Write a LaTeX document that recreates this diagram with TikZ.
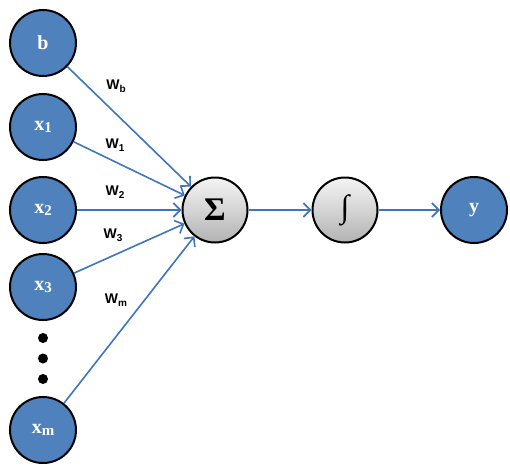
\documentclass[tikz,border=0pt]{standalone}
\usepackage{fontspec}
\newfontfamily\wfont{Liberation Sans}
\newfontfamily\nfont{Liberation Serif}
\usetikzlibrary{arrows.meta}

\definecolor{inblue}{RGB}{79,129,189}
\definecolor{lineblue}{RGB}{62,117,188}

\newcommand{\wlab}[1]{W\raisebox{-.4ex}{\fontsize{10}{11}\selectfont #1}}
\newcommand{\xlab}[1]{x\raisebox{-.3ex}{\fontsize{15}{16}\selectfont #1}}

\tikzset{
  neuron/.style={circle, draw=black, line width=2pt, minimum size=66pt, inner sep=0pt,
    fill=inblue, text=white, font=\nfont\fontsize{20}{22}\selectfont\bfseries},
  unit/.style={circle, draw=black, line width=2pt, minimum size=65pt, inner sep=0pt,
    top color=gray!8, bottom color=gray!60, text=black},
  dot/.style={circle, fill=black, minimum size=10pt, inner sep=0pt},
  wlabel/.style={font=\wfont\fontsize{14}{16}\selectfont\bfseries, text=black},
  link/.style={draw=lineblue, line width=1.6pt, -{Straight Barb[length=7pt,width=14pt]}}
}

\begin{document}
\begin{tikzpicture}[x=1pt, y=-1pt]
            \useasboundingbox (0,0) rectangle (510,468);
            % Nodes
            \node[neuron] (b) at (43,43) {b};
            \node[neuron, below of=b, node distance=84pt] (x1) {\xlab{1}};
            \node[neuron, below of=x1, node distance=83pt] (x2) {\xlab{2}};
            \node[neuron, below of=x2, node distance=77pt] (x3) {\xlab{3}};
            \node[dot, below of=x3, node distance=51pt] (dot1) {};
            \node[dot, below of=dot1, node distance=20.5pt] (dot2) {};
            \node[dot, below of=dot2, node distance=20.5pt] (dot3) {};
            \node[neuron, below of=x3, node distance=143pt] (xm) {\xlab{m}};
            \node[unit, right of=x2, node distance=172pt, font=\nfont\fontsize{33}{35}\selectfont\bfseries] (sum) {Σ};
            \node[unit, right of=sum, node distance=130pt, font=\nfont\fontsize{32}{34}\selectfont\bfseries] (act) {∫};
            \node[neuron, right of=act, node distance=129pt] (y) {y};

            % Weights
            \node[wlabel] (wb) at (116,86) {\wlab{b}};
            \node[wlabel] (w1) at (115,145) {\wlab{1}};
            \node[wlabel] (w2) at (115,192) {\wlab{2}};
            \node[wlabel] (w3) at (113,235) {\wlab{3}};
            \node[wlabel] (wm) at (116,300) {\wlab{m}};

            % Arrows
            \draw[link] (b) -- (sum);
            \draw[link] (x1) -- (sum);
            \draw[link] (x2) -- (sum);
            \draw[link] (x3) -- (sum);
            \draw[link] (xm) -- (sum);
            \draw[link] (sum) -- (act);
            \draw[link] (act) -- (y);
        \end{tikzpicture}
\end{document}
